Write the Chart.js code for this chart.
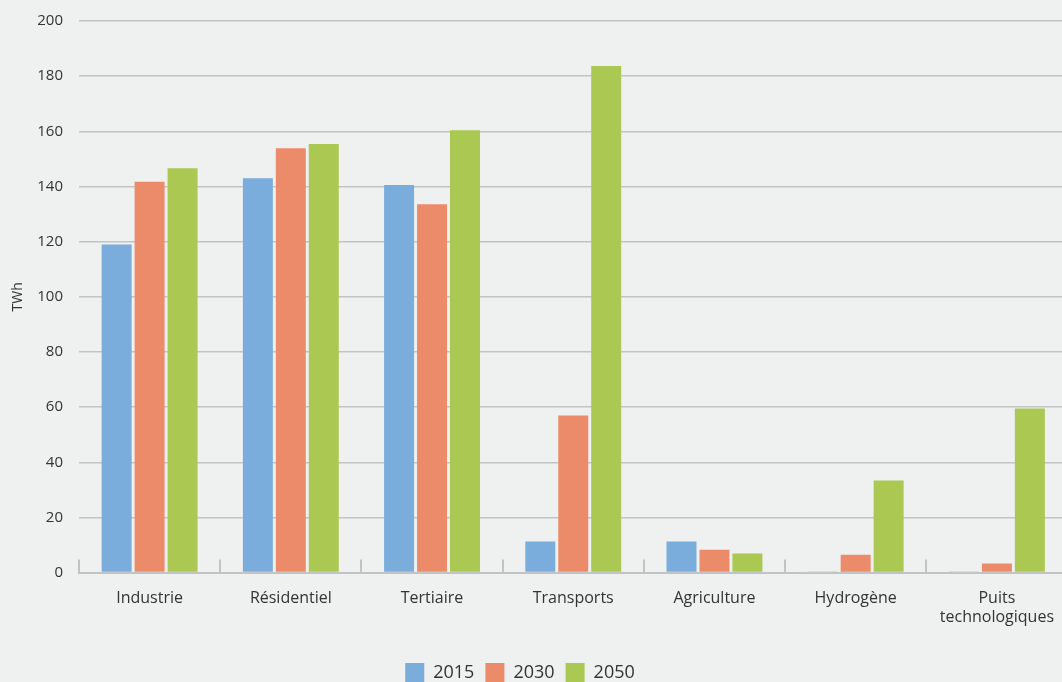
<!DOCTYPE html>
<html lang="fr">
<head>
    <meta charset="UTF-8">
    <title>Consommation d'électricité par secteur</title>
    <script src="https://cdn.jsdelivr.net/npm/chart.js"></script>
    <style>
        html, body { margin: 0; padding: 0; background: #eff0f0; overflow: hidden; }
        #cadre { width: 1062px; height: 682px; overflow: hidden; }
        #cadre div { width: 1070px; height: 692px; }
    </style>
</head>
<body>

    <div id="cadre"><div><canvas id="grafica"></canvas></div></div>

    <script>
        // Secteurs et consommations (TWh)
        const secteurs = ["Industrie", "Résidentiel", "Tertiaire", "Transports", "Agriculture", "Hydrogène", ["Puits", "technologiques"]];
        const annees = ["2015", "2030", "2050"];
        const valeurs2015 = [119.0, 143.0, 140.5, 11.3, 11.3, 0.4, 0.4];
        const valeurs2030 = [141.7, 153.9, 133.6, 57.0, 8.3, 6.5, 3.3];
        const valeurs2050 = [146.6, 155.4, 160.4, 183.7, 6.9, 33.4, 59.5];
        const couleurs = ["#7aacdc", "#ec8b6a", "#aac852"];

        const police = "'Open Sans', sans-serif";
        const gris = "#c2c3c5";

        // Petits repères verticaux entre les secteurs, posés sur l'axe
        const reperesSecteurs = {
            id: "reperesSecteurs",
            afterDatasetsDraw(chart) {
                const x = chart.scales.x;
                const ctx = chart.ctx;
                ctx.save();
                ctx.strokeStyle = gris;
                ctx.lineWidth = 2;
                for (let i = 0; i < secteurs.length; i++) {
                    const px = Math.round(x.getPixelForValue(i - 0.5));
                    ctx.beginPath();
                    ctx.moveTo(px, chart.chartArea.bottom);
                    ctx.lineTo(px, chart.chartArea.bottom - 13);
                    ctx.stroke();
                }
                ctx.restore();
            }
        };

        // Décale la légende un peu vers la gauche
        const decalageLegende = {
            id: "decalageLegende",
            beforeDraw(chart) {
                chart.legend.left -= 15;
                chart.legend.right -= 15;
            }
        };

        const ctx = document.getElementById("grafica").getContext("2d");
        const grafica = new Chart(ctx, {
            type: "bar",
            data: {
                labels: secteurs,
                datasets: [
                    { label: annees[0], data: valeurs2015, backgroundColor: couleurs[0] },
                    { label: annees[1], data: valeurs2030, backgroundColor: couleurs[1] },
                    { label: annees[2], data: valeurs2050, backgroundColor: couleurs[2] }
                ]
            },
            options: {
                responsive: true,
                maintainAspectRatio: false,
                animation: false,
                categoryPercentage: 0.70,
                barPercentage: 0.91,
                layout: { padding: { top: 21, left: 0, right: 0, bottom: 0 } },
                plugins: {
                    tooltip: { enabled: false },
                    legend: {
                        position: "bottom",
                        labels: {
                            boxWidth: 19,
                            boxHeight: 19,
                            padding: 11,
                            color: "#333333",
                            font: { family: police, size: 18 }
                        }
                    }
                },
                scales: {
                    x: {
                        grid: { display: false, drawTicks: false },
                        border: { display: true, color: gris, width: 2 },
                        ticks: {
                            color: "#333333",
                            padding: 16,
                            maxRotation: 0,
                            font: { family: police, size: 16 }
                        },
                        afterFit(scale) { scale.height += 9; }
                    },
                    y: {
                        min: 0,
                        max: 200,
                        ticks: {
                            stepSize: 20,
                            color: "#333333",
                            padding: 16,
                            font: { family: police, size: 15 }
                        },
                        grid: { color: gris, lineWidth: 1.5, drawTicks: false },
                        border: { display: false },
                        title: {
                            display: true,
                            text: "TWh",
                            color: "#333333",
                            padding: { top: 10, bottom: 4 },
                            font: { family: police, size: 14 }
                        },
                        afterFit(scale) {
                            scale.width = 79;
                            scale.paddingTop = 0;
                            scale.paddingBottom = 0;
                        }
                    }
                }
            },
            plugins: [reperesSecteurs, decalageLegende]
        });
    </script>

</body>
</html>
